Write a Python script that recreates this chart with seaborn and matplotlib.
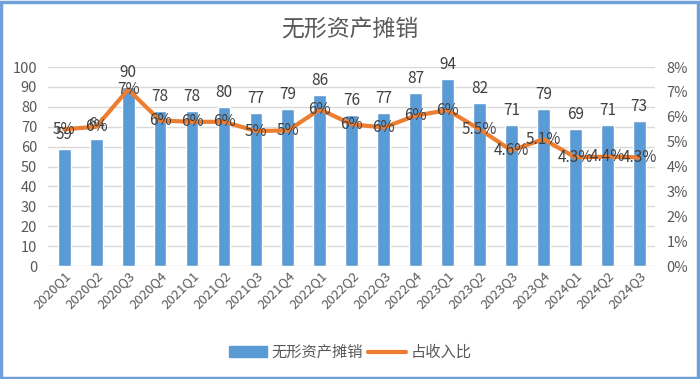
import matplotlib
matplotlib.use("Agg")
import matplotlib.pyplot as plt
import pandas as pd
import seaborn as sns
from matplotlib.patches import Rectangle

# Data
quarters = ["2020Q1", "2020Q2", "2020Q3", "2020Q4", "2021Q1", "2021Q2", "2021Q3", "2021Q4",
            "2022Q1", "2022Q2", "2022Q3", "2022Q4", "2023Q1", "2023Q2", "2023Q3", "2023Q4",
            "2024Q1", "2024Q2", "2024Q3"]
amort = [59, 64, 90, 78, 78, 80, 77, 79, 86, 76, 77, 87, 94, 82, 71, 79, 69, 71, 73]
ratio = [5.5, 5.6, 7.1, 5.85, 5.8, 5.8, 5.43, 5.45, 6.3, 5.7, 5.57, 6.05, 6.27, 5.5, 4.65, 5.1, 4.37, 4.4, 4.37]
ratio_labels = ["5%", "6%", "7%", "6%", "6%", "6%", "5%", "5%", "6%", "6%", "6%", "6%", "6%",
                "5.5%", "4.6%", "5.1%", "4.3%", "4.4%", "4.3%"]

df = pd.DataFrame({"quarter": quarters, "amort": amort, "ratio": ratio})

sns.set_style("white")
plt.rcParams["font.family"] = ["Noto Sans CJK SC", "DejaVu Sans"]
grey = "#595959"
blue = "#5B9BD5"
orange = "#ED7D31"

fig = plt.figure(figsize=(7, 3.79), dpi=100)
ax = fig.add_axes([0.069, 0.298, 0.867, 0.525])

# bars on the left axis
sns.barplot(data=df, x="quarter", y="amort", color=blue, width=0.4, saturation=1, ax=ax, zorder=2)
ax.set_ylim(0, 100)
ax.set_yticks(range(0, 101, 10))
ax.yaxis.grid(True, color="#D9D9D9", linewidth=1, zorder=0)
ax.set_axisbelow(True)
for s in ax.spines.values():
    s.set_visible(False)
ax.set_xlabel("")
ax.set_ylabel("")
ax.tick_params(axis="y", length=0, labelsize=10.5, labelcolor=grey, pad=8)
ax.tick_params(axis="x", length=0, labelsize=9.5, labelcolor=grey, pad=2)
for lab in ax.get_xticklabels():
    lab.set_rotation(45)
    lab.set_ha("right")
    lab.set_rotation_mode("anchor")
for i, v in enumerate(amort):
    ax.text(i, v + 3, str(v), ha="center", va="bottom", fontsize=11, color="#404040")

# ratio line on the right axis
ax2 = ax.twinx()
sns.lineplot(data=df, x="quarter", y="ratio", color=orange, linewidth=3, sort=False, ax=ax2, zorder=3)
ax2.set_ylim(0, 8)
ax2.set_yticks(range(0, 9))
ax2.set_yticklabels([f"{t}%" for t in range(0, 9)])
ax2.set_ylabel("")
for s in ax2.spines.values():
    s.set_visible(False)
ax2.tick_params(axis="y", length=0, labelsize=10.5, labelcolor=grey, pad=8)
for i, (v, t) in enumerate(zip(ratio, ratio_labels)):
    ax2.text(i, v, t, ha="center", va="center", fontsize=11, color="#404040")
ax.set_xlim(-0.5, len(quarters) - 0.5)

fig.suptitle("无形资产摊销", x=0.5, y=0.955, fontsize=16.5, color=grey)

handles = [Rectangle((0, 0), 1, 1, color=blue),
           plt.Line2D([0], [0], color=orange, linewidth=3)]
fig.legend(handles, ["无形资产摊销", "占收入比"], loc="center", bbox_to_anchor=(0.5, 0.07),
           ncol=2, frameon=False, fontsize=11, labelcolor=grey, handlelength=2.5,
           columnspacing=0.3, handletextpad=0.3)

fig.patches.append(Rectangle((0.002, 0.003), 0.995, 0.993, transform=fig.transFigure,
                             fill=False, edgecolor="#6FA0D8", linewidth=2.5))

fig.savefig("out.png", dpi=100)
